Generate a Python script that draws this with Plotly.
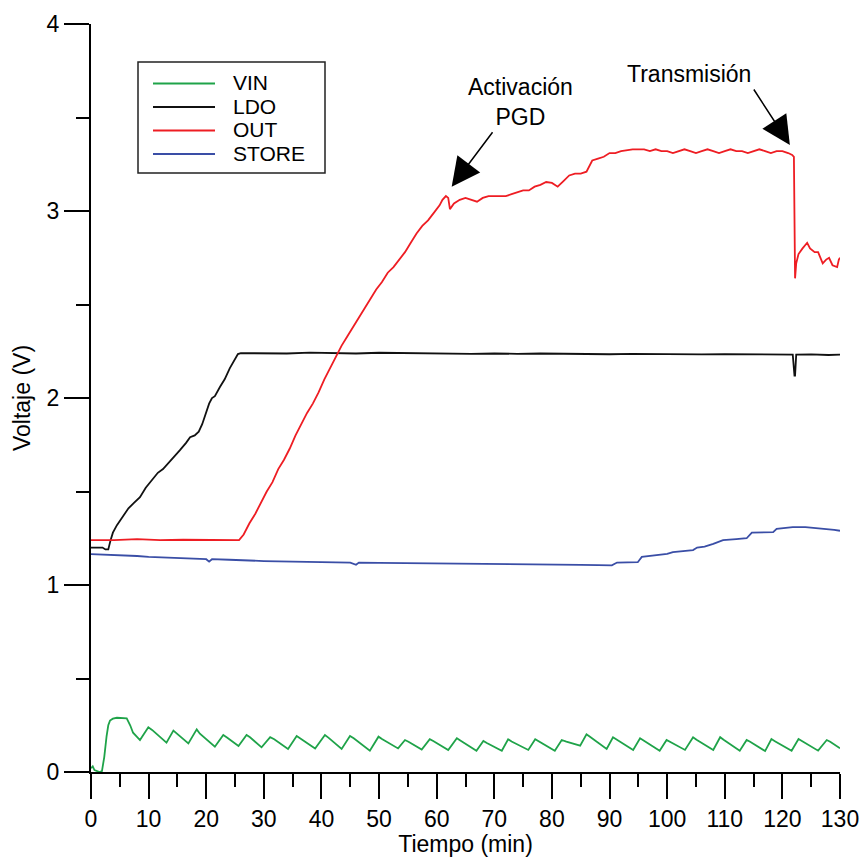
import plotly.graph_objects as go

# ---- Series (time in minutes, voltage in volts) ----
vin_t = [0.0, 0.3, 0.6, 1.0, 1.5, 1.9, 2.3, 2.7, 3.0, 3.3, 3.8, 4.5, 5.2, 6.2, 6.8, 7.3, 8.5,
         9.95, 10.6, 13.1, 14.3, 14.9, 16.9, 18.35, 18.9, 21.5, 22.96, 23.6, 25.6, 27.0, 27.6,
         29.6, 31.1, 31.8, 34.2, 35.7, 36.3, 38.9, 40.6, 41.2, 43.5, 44.95, 45.6, 48.4, 49.9,
         50.5, 53.3, 54.5, 55.1, 57.4, 58.8, 59.4, 62.0, 63.5, 64.1, 66.9, 68.1, 68.7, 71.3,
         72.4, 73.0, 75.9, 77.1, 77.7, 80.5, 81.7, 82.5, 84.9, 86.0, 86.6, 89.5, 90.6, 91.2,
         94.1, 95.3, 95.9, 98.7, 99.9, 100.5, 103.1, 104.5, 105.1, 108.0, 109.2, 109.8, 112.6,
         113.8, 114.4, 117.0, 118.1, 118.7, 121.6, 122.8, 123.4, 126.2, 127.7, 128.3, 130.0]
vin_v = [0.02, 0.03, 0.01, 0.005, 0.0, 0.005, 0.08, 0.19, 0.25, 0.275, 0.285, 0.29, 0.289, 0.287, 0.25, 0.21, 0.171,
         0.239, 0.225, 0.157, 0.221, 0.205, 0.153, 0.228, 0.205, 0.135, 0.198, 0.185, 0.139, 0.198, 0.186,
         0.132, 0.186, 0.175, 0.123, 0.193, 0.181, 0.126, 0.198, 0.184, 0.123, 0.193, 0.18, 0.114, 0.189,
         0.176, 0.126, 0.171, 0.162, 0.12, 0.176, 0.166, 0.117, 0.18, 0.168, 0.114, 0.166, 0.155, 0.114,
         0.175, 0.163, 0.118, 0.175, 0.164, 0.114, 0.171, 0.162, 0.141, 0.202, 0.188, 0.123, 0.186, 0.174,
         0.118, 0.18, 0.168, 0.114, 0.171, 0.161, 0.118, 0.186, 0.173, 0.118, 0.186, 0.172, 0.114,
         0.171, 0.162, 0.112, 0.176, 0.165, 0.114, 0.176, 0.165, 0.114, 0.171, 0.162, 0.127]

ldo_t = [0.0, 1.0, 2.0, 2.5, 3.0, 3.4, 3.8, 4.5, 5.6, 6.5, 7.5, 8.5, 9.5, 10.5, 11.6, 12.5, 13.4,
         14.5, 15.4, 16.5, 17.2, 18.0, 18.7, 19.3, 20.0, 20.5, 21.0, 21.5, 22.4, 23.2, 24.1, 24.8,
         25.5, 26.0, 30.0, 34.0, 38.0, 42.0, 46.0, 50.0, 54.0, 58.0, 62.0, 66.0, 70.0, 74.0, 78.0,
         82.0, 86.0, 90.0, 94.0, 98.0, 102.0, 106.0, 110.0, 114.0, 118.0, 121.8, 122.1, 122.2,
         122.4, 125.0, 128.0, 130.0]
ldo_v = [1.20, 1.20, 1.20, 1.19, 1.19, 1.24, 1.28, 1.32, 1.37, 1.41, 1.44, 1.47, 1.52, 1.56, 1.60, 1.62, 1.65,
         1.69, 1.72, 1.76, 1.79, 1.80, 1.82, 1.86, 1.93, 1.97, 2.00, 2.01, 2.06, 2.10, 2.16, 2.20,
         2.235, 2.24, 2.24, 2.238, 2.243, 2.24, 2.238, 2.242, 2.24, 2.238, 2.24, 2.236, 2.238, 2.236, 2.238,
         2.236, 2.237, 2.234, 2.236, 2.234, 2.235, 2.233, 2.235, 2.234, 2.232, 2.232, 2.12, 2.12,
         2.232, 2.233, 2.23, 2.232]

out_t = [0.0, 4.0, 8.0, 12.0, 16.0, 20.0, 24.0, 25.7, 26.5, 27.5, 28.5, 29.5, 30.5, 31.5, 32.5,
         33.5, 34.5, 35.5, 36.5, 37.5, 38.5, 39.5, 40.5, 41.5, 42.5, 43.5, 44.5, 45.5, 46.5, 47.5,
         48.5, 49.5, 50.5, 51.5, 52.5, 53.5, 54.5, 55.5, 56.5, 57.5, 58.5, 59.5, 60.5, 61.0, 61.6,
         62.0, 62.3, 63.0, 64.0, 65.0, 66.0, 67.0, 68.0, 69.0, 70.0, 71.0, 72.0, 73.0, 74.0, 75.0,
         76.0, 77.0, 78.0, 79.0, 80.0, 81.0, 82.0, 83.0, 84.0, 85.0, 86.0, 87.0, 88.0, 89.0, 90.0,
         91.0, 92.0, 93.0, 94.0, 95.0, 96.0, 97.0, 98.0, 99.0, 100.0, 101.0, 102.0, 103.0, 104.0,
         105.0, 106.0, 107.0, 108.0, 109.0, 110.0, 111.0, 112.0, 113.0, 114.0, 115.0, 116.0, 117.0,
         118.0, 119.0, 120.0, 121.0, 121.7, 122.0, 122.2, 122.4, 122.8, 123.5, 124.3, 124.8, 125.6,
         126.2, 127.0, 127.6, 128.1, 128.7, 129.5, 129.8, 130.0]
out_v = [1.24, 1.24, 1.245, 1.24, 1.242, 1.24, 1.24, 1.24, 1.27, 1.33, 1.38, 1.44, 1.50, 1.55, 1.62,
         1.67, 1.73, 1.80, 1.86, 1.92, 1.97, 2.03, 2.10, 2.16, 2.22, 2.28, 2.33, 2.38, 2.43, 2.48,
         2.53, 2.58, 2.62, 2.67, 2.70, 2.74, 2.78, 2.83, 2.88, 2.92, 2.95, 2.99, 3.03, 3.06, 3.08,
         3.07, 3.01, 3.04, 3.06, 3.07, 3.06, 3.05, 3.07, 3.08, 3.08, 3.08, 3.08, 3.09, 3.10, 3.11,
         3.11, 3.13, 3.14, 3.155, 3.15, 3.13, 3.16, 3.19, 3.20, 3.20, 3.21, 3.27, 3.28, 3.29, 3.31,
         3.31, 3.32, 3.325, 3.33, 3.33, 3.33, 3.32, 3.33, 3.32, 3.32, 3.31, 3.32, 3.33, 3.32,
         3.31, 3.32, 3.33, 3.32, 3.31, 3.32, 3.33, 3.32, 3.32, 3.31, 3.32, 3.33, 3.32,
         3.31, 3.32, 3.32, 3.31, 3.30, 3.29, 2.64, 2.72, 2.77, 2.80, 2.83, 2.80, 2.78,
         2.78, 2.72, 2.74, 2.75, 2.71, 2.70, 2.74, 2.75]

store_t = [0.0, 2.0, 4.0, 6.0, 8.0, 10.0, 12.0, 14.0, 16.0, 18.0, 20.0, 20.5, 21.0, 24.0, 26.0,
           28.0, 30.0, 35.0, 40.0, 45.0, 46.0, 46.5, 50.0, 55.0, 60.0, 65.0, 70.0, 75.0, 80.0,
           85.0, 88.0, 90.4, 91.3, 94.9, 95.6, 98.0, 100.0, 101.0, 103.0, 104.5, 105.2, 106.5,
           108.0, 109.7, 112.0, 113.8, 114.7, 117.0, 118.4, 119.0, 120.5, 121.8, 124.0, 126.0,
           127.7, 129.0, 130.0]
store_v = [1.165, 1.163, 1.16, 1.158, 1.155, 1.15, 1.148, 1.147, 1.145, 1.142, 1.138, 1.125, 1.138, 1.135, 1.132,
           1.13, 1.128, 1.125, 1.122, 1.12, 1.108, 1.12, 1.118, 1.117, 1.115, 1.115, 1.113, 1.112, 1.11,
           1.108, 1.106, 1.105, 1.12, 1.122, 1.15, 1.158, 1.166, 1.176, 1.18, 1.187, 1.20, 1.205,
           1.22, 1.24, 1.245, 1.25, 1.28, 1.28, 1.283, 1.30, 1.305, 1.31, 1.31, 1.305,
           1.30, 1.295, 1.29]

series = [
    ("VIN", vin_t, vin_v, "#1fa349"),
    ("LDO", ldo_t, ldo_v, "#111111"),
    ("OUT", out_t, out_v, "#ee1d23"),
    ("STORE", store_t, store_v, "#3a4ea6"),
]

x_ticks = list(range(0, 131, 10))
y_ticks = [0, 1, 2, 3, 4]

FONT = "Liberation Sans, Arial, sans-serif"
W, H = 862, 857
ML, MR, MT, MB = 91, 22, 24, 85

fig = go.Figure()
for name, t, v, color in series:
    fig.add_trace(go.Scatter(x=t, y=v, mode="lines", name=name,
                             line=dict(color=color, width=1.8), showlegend=False))


def px_x(p):
    return (p - ML) / (W - ML - MR)


def px_y(p):
    return (H - MB - p) / (H - MT - MB)


# Hand-built legend box
shapes = [dict(type="rect", xref="paper", yref="paper",
               x0=px_x(138), x1=px_x(325), y0=px_y(173), y1=px_y(62),
               line=dict(color="#222222", width=1.5), fillcolor="white", layer="above")]
annotations = []
legend_rows = [83.5, 107.0, 130.5, 154.0]
for (name, _, _, color), row in zip(series, legend_rows):
    shapes.append(dict(type="line", xref="paper", yref="paper",
                       x0=px_x(153), x1=px_x(215), y0=px_y(row), y1=px_y(row),
                       line=dict(color=color, width=1.8), layer="above"))
    annotations.append(dict(xref="paper", yref="paper", x=px_x(232), y=px_y(row - 1),
                            text=name, showarrow=False, xanchor="left", yanchor="middle",
                            borderpad=0,
                            font=dict(family=FONT, size=21, color="black")))

# Event labels and arrows
annotations += [
    dict(xref="paper", yref="paper", x=px_x(520), y=px_y(102), text="Activación<br>PGD",
         showarrow=False, xanchor="center", yanchor="middle", align="center",
         font=dict(family=FONT, size=23, color="black")),
    dict(xref="paper", yref="paper", x=px_x(689), y=px_y(74), text="Transmisión",
         showarrow=False, xanchor="center", yanchor="middle",
         font=dict(family=FONT, size=23, color="black")),
    dict(x=62.6, y=3.13, xref="x", yref="y", text="", showarrow=True,
         ax=42, ay=-56, arrowhead=2, arrowsize=3.8, arrowwidth=1.5, arrowcolor="black", standoff=0),
    dict(x=121.3, y=3.353, xref="x", yref="y", text="", showarrow=True,
         ax=-37, ay=-57, arrowhead=2, arrowsize=3.8, arrowwidth=1.5, arrowcolor="black", standoff=0),
]

axis_common = dict(showgrid=False, zeroline=False, showline=True, linecolor="black", linewidth=2,
                   ticks="outside", ticklen=25, tickwidth=2, tickcolor="black", automargin=False,
                   tickfont=dict(family=FONT, size=23, color="black"),
                   title_font=dict(family=FONT, size=23, color="black"))

fig.update_layout(
    width=W, height=H,
    margin=dict(l=ML, r=MR, t=MT, b=MB, pad=0),
    paper_bgcolor="white", plot_bgcolor="white",
    shapes=shapes, annotations=annotations,
    xaxis=dict(range=[0, 130], tickvals=x_ticks, ticktext=[str(v) for v in x_ticks],
               title=dict(text="Tiempo (min)", standoff=4),
               minor=dict(ticks="outside", ticklen=13, tickwidth=2, tickcolor="black", dtick=5, tick0=0),
               **axis_common),
    yaxis=dict(range=[0, 4], tickvals=y_ticks, ticktext=[str(v) for v in y_ticks],
               title=dict(text="Voltaje (V)", standoff=10),
               minor=dict(ticks="outside", ticklen=13, tickwidth=2, tickcolor="black", dtick=0.5, tick0=0),
               **axis_common),
)

fig.write_html("out.html")
